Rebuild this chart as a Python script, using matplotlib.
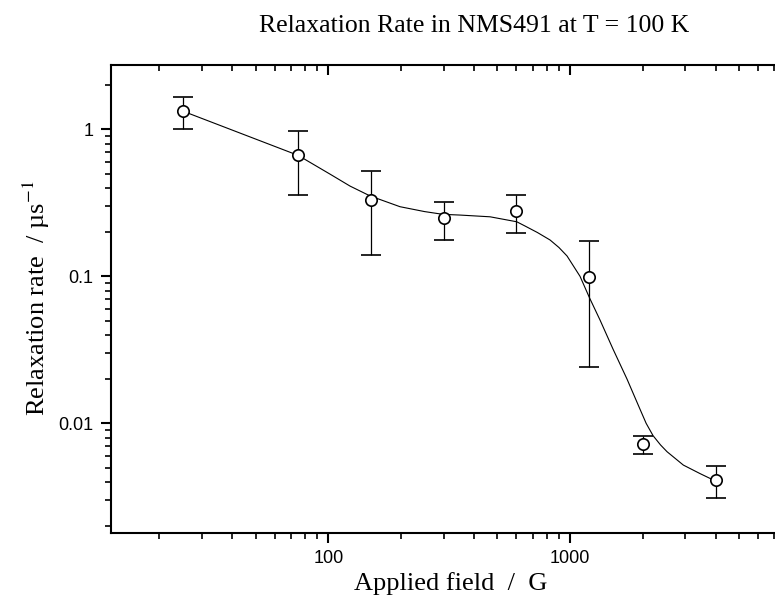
import matplotlib
matplotlib.use("Agg")
import matplotlib.pyplot as plt
from matplotlib.ticker import FixedLocator, NullFormatter, FixedFormatter

# Measured relaxation rates
field_G = [25, 75, 150, 300, 600, 1200, 2000, 4000]
rate = [1.33, 0.665, 0.33, 0.248, 0.277, 0.099, 0.0072, 0.0041]
rate_err = [0.33, 0.31, 0.19, 0.072, 0.08, 0.075, 0.001, 0.001]

# Fitted curve, sampled along the field axis
fit_field = [25, 75, 102, 123, 149, 198, 250, 298, 351, 467, 602, 651, 733,
             827, 900, 972, 1100, 1206, 1331, 1506, 1721, 1948, 2065, 2206,
             2368, 2520, 2943, 3451, 3795, 4019]
fit_rate = [1.33, 0.665, 0.494, 0.411, 0.352, 0.2975, 0.2757, 0.264, 0.261,
            0.254, 0.235, 0.220, 0.1986, 0.1766, 0.157, 0.1375, 0.100, 0.071,
            0.0504, 0.0320, 0.0200, 0.01247, 0.0100, 0.00824, 0.00713, 0.00641,
            0.0052, 0.00455, 0.00422, 0.00409]

x_major = [100, 1000]
x_major_labels = ["100", "1000"]
y_major = [0.01, 0.1, 1]
y_major_labels = ["0.01", "0.1", "1"]

plt.rcParams["mathtext.fontset"] = "stix"

W, H = 775, 605
fig = plt.figure(figsize=(W / 100, H / 100), dpi=100)
left, top, bottom, right = 111, 64.7, 532.7, 775
ax = fig.add_axes([left / W, 1 - bottom / H, (right - left) / W, (bottom - top) / H])

ax.set_xscale("log")
ax.set_yscale("log")
xlim = (12.62, 7047)
ylim = (0.001803, 2.751)
ax.set_xlim(*xlim)
ax.set_ylim(*ylim)

ax.plot(fit_field, fit_rate, color="black", lw=0.8, zorder=2)
ax.errorbar(field_G, rate, yerr=rate_err, fmt="o", ms=8.2, mfc="white",
            mec="black", mew=1.2, ecolor="black", elinewidth=0.9,
            capsize=7.2, capthick=0.9, zorder=3)

# ticks
minor_x = [m * 10 ** e for e in range(1, 4) for m in range(2, 10)]
minor_y = [m * 10 ** e for e in range(-3, 1) for m in range(2, 10)]
ax.xaxis.set_major_locator(FixedLocator(x_major))
ax.xaxis.set_major_formatter(FixedFormatter(x_major_labels))
ax.xaxis.set_minor_locator(FixedLocator(minor_x))
ax.xaxis.set_minor_formatter(NullFormatter())
ax.yaxis.set_major_locator(FixedLocator(y_major))
ax.yaxis.set_major_formatter(FixedFormatter(y_major_labels))
ax.yaxis.set_minor_locator(FixedLocator(minor_y))
ax.yaxis.set_minor_formatter(NullFormatter())

ax.tick_params(which="major", direction="out", length=7.5, width=1.5,
               labelsize=13, pad=5)
ax.tick_params(which="minor", direction="out", length=4.5, width=1.2)
for lbl in ax.get_xticklabels() + ax.get_yticklabels():
    lbl.set_family("Liberation Sans")

for s in ["left", "bottom", "top"]:
    ax.spines[s].set_linewidth(1.5)
ax.spines["right"].set_visible(False)

# mirrored ticks along the top edge, pointing down into the plot
axt = ax.twiny()
axt.set_xscale("log")
axt.set_xlim(*xlim)
axt.xaxis.set_major_locator(FixedLocator(x_major))
axt.xaxis.set_minor_locator(FixedLocator(minor_x))
axt.xaxis.set_major_formatter(NullFormatter())
axt.xaxis.set_minor_formatter(NullFormatter())
axt.tick_params(which="major", direction="in", length=7.5, width=1.5)
axt.tick_params(which="minor", direction="in", length=4.5, width=1.2)
for s in axt.spines.values():
    s.set_visible(False)

serif = "Liberation Serif"
fig.text(689 / W, 1 - 31.5 / H, "Relaxation Rate in NMS491 at T = 100 K",
         family=serif, fontsize=18.5, ha="right", va="baseline")
ax.set_xlabel("Applied field  /  G", family=serif, fontsize=19)
ax.xaxis.set_label_coords((451 - left) / (right - left), -(572 - bottom) / (bottom - top))
ax.set_ylabel("Relaxation rate  / µs$^{-1}$", family=serif, fontsize=19)
ax.yaxis.set_label_coords(-(111 - 52) / (right - left), 0.5)

fig.savefig("out.png", dpi=100)
